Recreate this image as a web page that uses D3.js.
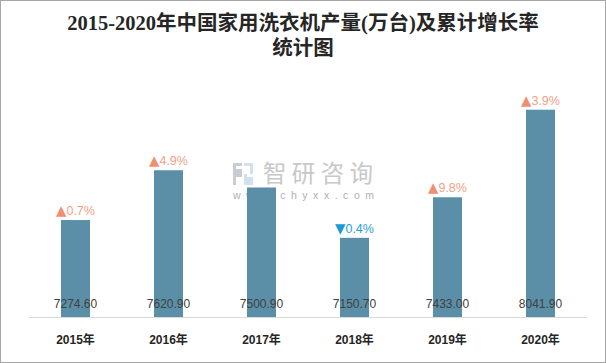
<!DOCTYPE html>
<html><head><meta charset="utf-8">
<script src="https://cdn.jsdelivr.net/npm/d3@7"></script>
<style>html,body{margin:0;padding:0;background:#fff;}svg{display:block;}</style>
</head><body>
<script>
const years = ["2015年","2016年","2017年","2018年","2019年","2020年"];
const production = [7274.60, 7620.90, 7500.90, 7150.70, 7433.00, 8041.90];
const growthLabels = ["0.7%","4.9%","","0.4%","9.8%","3.9%"];
const growthDir = ["up","up","none","down","up","up"];
const titleLines = ["2015-2020年中国家用洗衣机产量(万台)及累计增长率","统计图"];

const W = 606, H = 363;
const svg = d3.select("body").append("svg").attr("width", W).attr("height", H);
svg.append("rect").attr("x",0.5).attr("y",0.5).attr("width",W-1).attr("height",H-1)
  .attr("fill","#fff").attr("stroke","#a6a6a6");

// title
svg.append("g").selectAll("text").data(titleLines).join("text")
  .attr("x", 303).attr("y", (d,i)=> 30 + i*25)
  .attr("text-anchor","middle")
  .attr("font-family","'Liberation Serif','Noto Sans CJK SC',serif")
  .attr("font-weight","bold").attr("font-size",20.5).attr("fill","#262626")
  .text(d=>d);

const x = d3.scaleBand().domain(years).range([29,587]).paddingInner(0.688).paddingOuter(0.344);
const y = d3.scaleLinear().domain([6600, 8200]).range([317, 87]);

// watermark
const wm = svg.append("g");
wm.append("path").attr("d","M233,163 h9 v3 h-6 v3 h6 v8 h-6 v8 h-3 z").attr("fill","#c8ccd4");
wm.append("path").attr("d","M244,163 h9 v11 h-6 v3 h6 v8 h-9 v-11 h6 v-8 h-6 z").attr("fill","#cfe0ee");
wm.append("text").attr("x",263).attr("y",182).attr("font-family","'Noto Sans CJK SC',sans-serif")
  .attr("font-size",23.5).attr("fill","#c8c8c8").attr("textLength",110).attr("lengthAdjust","spacing").text("智研咨询");
wm.append("text").attr("x",233).attr("y",199).attr("font-family","'Liberation Sans',sans-serif")
  .attr("font-size",10.5).attr("fill","#b0b0b0").attr("textLength",141).attr("lengthAdjust","spacing").text("www.chyxx.com");

// bars
svg.append("g").selectAll("rect").data(production).join("rect")
  .attr("x",(d,i)=>x(years[i])).attr("width",x.bandwidth())
  .attr("y",d=>y(d)).attr("height",d=>y.range()[0]-y(d))
  .attr("fill","#5b8fa8");

// axis line
const xAxis = d3.axisBottom(x).tickSize(0).tickPadding(0);
const ax = svg.append("g").attr("transform","translate(0,317)").call(xAxis);
ax.select(".domain").attr("stroke","#d9d9d9").attr("d","M29,0.5H587");
ax.selectAll(".tick text").attr("y",27).attr("dy",0)
  .attr("font-family","'Liberation Sans','Noto Sans CJK SC',sans-serif")
  .attr("font-weight","bold").attr("font-size",12).attr("fill","#262626");

// value labels
svg.append("g").selectAll("text").data(production).join("text")
  .attr("x",(d,i)=>x(years[i])+x.bandwidth()/2).attr("y",308)
  .attr("text-anchor","middle").attr("font-family","'Liberation Sans',sans-serif")
  .attr("font-size",12).attr("fill","#404040")
  .text(d=>d.toFixed(2));

// growth labels
const idx = d3.range(production.length).filter(i => growthDir[i] !== "none");
const gl = svg.append("g").selectAll("text").data(idx).join("text")
  .attr("x",i=>x(years[i])+x.bandwidth()/2).attr("y",i=>y(production[i])-5)
  .attr("text-anchor","middle").attr("font-family","'Liberation Sans','DejaVu Sans',sans-serif")
  .attr("font-size",12.5);
gl.each(function(i){
  const t = d3.select(this);
  const up = growthDir[i]==="up";
  t.append("tspan").attr("font-family","'DejaVu Sans',sans-serif").attr("font-size",13.5)
    .attr("fill", up ? "#f08e72" : "#1b9bd7").text(up ? "▲" : "▼");
  t.append("tspan").attr("fill", up ? "#f3a088" : "#2a9fd6").text(growthLabels[i]);
});
</script>
</body></html>
